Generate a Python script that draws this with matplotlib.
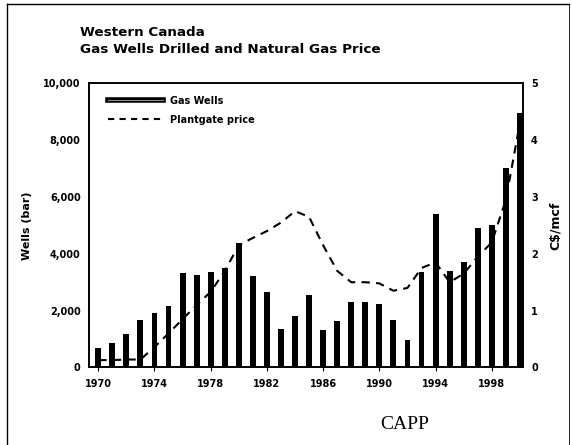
import numpy as np
import matplotlib.pyplot as plt
from matplotlib.lines import Line2D

years = list(range(1970, 2001))
wells = [700, 850, 1180, 1680, 1910, 2150, 3320, 3250, 3350, 3500, 4380,
         3230, 2640, 1350, 1800, 2540, 1320, 1650, 2290, 2290, 2230,
         1680, 950, 3350, 5390, 3410, 3700, 4910, 5000, 7030, 8960]
price = [0.13, 0.13, 0.14, 0.14, 0.36, 0.6, 0.85, 1.1, 1.33, 1.7, 2.15,
         2.28, 2.4, 2.55, 2.75, 2.65, 2.15, 1.7, 1.5, 1.5, 1.48,
         1.35, 1.4, 1.75, 1.85, 1.5, 1.65, 1.95, 2.2, 2.95, 4.3]
year_ticks = [1970, 1974, 1978, 1982, 1986, 1990, 1994, 1998]

fig = plt.figure(figsize=(5.72, 4.45), dpi=100)
ax = fig.add_axes([0.1556, 0.1742, 0.7582, 0.6386])
ax2 = ax.twinx()

ax.bar(years, wells, width=0.42, color="black")
ax2.plot(years, price, color="black", linestyle=(0, (4, 3)), linewidth=1.5)

ax.set_xlim(1969.34, 2000.2)
ax.set_ylim(0, 10000)
ax2.set_ylim(0, 5)

ax.set_yticks([0, 2000, 4000, 6000, 8000, 10000])
ax.set_yticklabels(["0", "2,000", "4,000", "6,000", "8,000", "10,000"],
                   fontsize=7, fontweight="bold")
ax2.set_yticks([0, 1, 2, 3, 4, 5])
ax2.set_yticklabels(["0", "1", "2", "3", "4", "5"], fontsize=7, fontweight="bold")
ax.set_xticks(year_ticks)
ax.set_xticklabels([str(y) for y in year_ticks], fontsize=7, fontweight="bold")
ax.tick_params(axis="both", length=0, pad=6)
ax2.tick_params(axis="y", length=0, pad=6)
ax.tick_params(axis="x", length=3, width=0.8, direction="out", pad=5)

for a in (ax, ax2):
    for s in a.spines.values():
        s.set_linewidth(1.2)

ax.set_ylabel("Wells (bar)", fontsize=8, fontweight="bold", labelpad=8)
ax2.set_ylabel("C$/mcf", fontsize=9, fontweight="bold", labelpad=8)

fig.text(0.14, 0.92, "Western Canada", fontsize=9.7, fontweight="bold")
fig.text(0.14, 0.88, "Gas Wells Drilled and Natural Gas Price",
         fontsize=9.7, fontweight="bold")

h1 = (Line2D([], [], color="black", linewidth=4),
      Line2D([], [], color="#888888", linewidth=0.8))
h2 = Line2D([], [], color="black", linestyle=(0, (3, 2.5)), linewidth=1.5)
ax.legend([h1, h2], ["Gas Wells", "Plantgate price"], loc="upper left",
          frameon=False, prop={"size": 7, "weight": "bold"},
          handlelength=5.6, handletextpad=0.8, borderaxespad=0.6,
          labelspacing=0.9, bbox_to_anchor=(0.022, 0.99))

fig.text(0.665, 0.035, "CAPP", fontsize=14, family="Liberation Serif")

# scanned page border
fig.add_artist(Line2D([0.013, 0.013], [0.0, 0.99], color="black", linewidth=1))
fig.add_artist(Line2D([0.013, 0.995], [0.99, 0.99], color="black", linewidth=1))
fig.add_artist(Line2D([0.995, 0.995], [0.0, 0.99], color="black", linewidth=0.6))

fig.savefig("out.png", dpi=100)
